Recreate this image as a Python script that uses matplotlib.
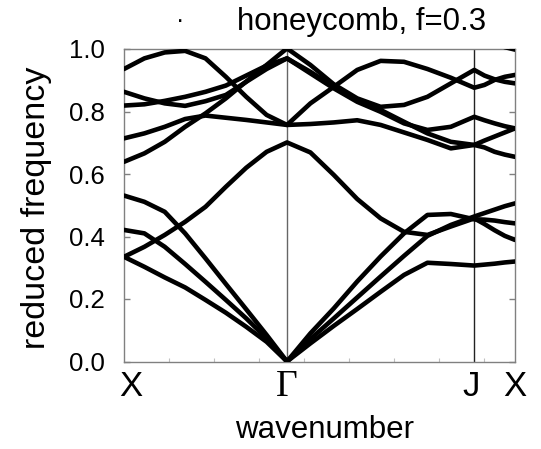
import numpy as np
import matplotlib
matplotlib.use("Agg")
import matplotlib.pyplot as plt
from matplotlib.transforms import ScaledTranslation
from matplotlib.ticker import MultipleLocator

# ---- k-path (symmetry points) ----
tick_labels = ["X", "Γ", "J", "X"]
tick_pos = [0.0, 1.0, 2.149, 2.399]

k_XG = np.linspace(tick_pos[0], tick_pos[1], 9)
k_GJ = np.linspace(tick_pos[1], tick_pos[2], 9)
k_JX = np.linspace(tick_pos[2], tick_pos[3], 5)

# ---- bands: values read along X->Gamma, Gamma->J, J->X ----
band1_XG = [0.335, 0.303, 0.269, 0.237, 0.197, 0.156, 0.111, 0.063, 0.0]
band1_GJ = [0.0, 0.058, 0.114, 0.168, 0.223, 0.277, 0.316, 0.312, 0.307]
band1_JX = [0.307, 0.310, 0.313, 0.317, 0.320]

band2_XG = [0.421, 0.410, 0.367, 0.312, 0.255, 0.197, 0.138, 0.074, 0.0]
band2_GJ = [0.0, 0.072, 0.138, 0.205, 0.272, 0.338, 0.402, 0.437, 0.464]
band2_JX = [0.464, 0.475, 0.486, 0.497, 0.506]

band3_XG = [0.531, 0.511, 0.479, 0.410, 0.330, 0.248, 0.167, 0.085, 0.0]
band3_GJ = [0.0, 0.090, 0.170, 0.256, 0.336, 0.410, 0.469, 0.472, 0.455]
band3_JX = [0.455, 0.454, 0.451, 0.446, 0.442]

band4_XG = [0.335, 0.367, 0.405, 0.447, 0.495, 0.559, 0.620, 0.671, 0.701]
band4_GJ = [0.701, 0.669, 0.597, 0.520, 0.458, 0.415, 0.405, 0.432, 0.458]
band4_JX = [0.458, 0.440, 0.420, 0.402, 0.389]

band5_XG = [0.639, 0.666, 0.703, 0.751, 0.794, 0.842, 0.896, 0.949, 1.002]
band5_GJ = [1.002, 0.949, 0.887, 0.842, 0.815, 0.821, 0.847, 0.890, 0.933]
band5_JX = [0.933, 0.915, 0.903, 0.895, 0.890]

band6_XG = [0.714, 0.730, 0.751, 0.776, 0.787, 0.780, 0.773, 0.765, 0.757]
band6_GJ = [0.757, 0.826, 0.879, 0.933, 0.962, 0.959, 0.936, 0.908, 0.876]
band6_JX = [0.876, 0.885, 0.901, 0.911, 0.917]

band7_XG = [0.819, 0.823, 0.834, 0.847, 0.863, 0.883, 0.915, 0.947, 0.970]
band7_GJ = [0.970, 0.927, 0.879, 0.837, 0.805, 0.767, 0.730, 0.703, 0.693]
band7_JX = [0.693, 0.685, 0.671, 0.662, 0.655]

band8_XG = [0.863, 0.842, 0.826, 0.818, 0.833, 0.853, 0.895, 0.936, 0.970]
band8_GJ = [0.970, 0.922, 0.874, 0.831, 0.799, 0.762, 0.741, 0.751, 0.783]
band8_JX = [0.783, 0.772, 0.762, 0.753, 0.746]

band9_XG = [0.936, 0.970, 0.989, 0.994, 0.970, 0.911, 0.847, 0.789, 0.757]
band9_GJ = [0.757, 0.760, 0.765, 0.772, 0.757, 0.733, 0.709, 0.682, 0.693]
band9_JX = [0.693, 0.707, 0.720, 0.733, 0.746]

band10_JX = [1.050, 1.035, 1.020, 1.006, 0.998]

bands = [
    (band1_XG, band1_GJ, band1_JX),
    (band2_XG, band2_GJ, band2_JX),
    (band3_XG, band3_GJ, band3_JX),
    (band4_XG, band4_GJ, band4_JX),
    (band5_XG, band5_GJ, band5_JX),
    (band6_XG, band6_GJ, band6_JX),
    (band7_XG, band7_GJ, band7_JX),
    (band8_XG, band8_GJ, band8_JX),
    (band9_XG, band9_GJ, band9_JX),
]

title_text = "honeycomb, f=0.3"
xlabel_text = "wavenumber"
ylabel_text = "reduced frequency"

plt.rcParams['font.family'] = ['Liberation Sans', 'DejaVu Sans']

W, H = 541, 449
fig = plt.figure(figsize=(W / 100, H / 100), dpi=100)
ax = fig.add_axes([124 / W, 1 - 361.5 / H, (515 - 124) / W, (361.5 - 49) / H])

k_all = np.concatenate([k_XG, k_GJ[1:], k_JX[1:]])
for xg, gj, jx in bands:
    vals = np.concatenate([xg, gj[1:], jx[1:]])
    ax.plot(k_all, vals, color='black', lw=3.3, solid_capstyle='round',
            solid_joinstyle='round', zorder=3)
ax.plot(k_JX, band10_JX, color='black', lw=3.3, solid_capstyle='round', zorder=3)

ax.axvline(tick_pos[1], color='#666666', lw=1.0, zorder=2)
ax.axvline(tick_pos[2], color='#222222', lw=1.0, zorder=2)

ax.set_xlim(tick_pos[0], tick_pos[-1])
ax.set_ylim(0, 1.0)

for s in ax.spines.values():
    s.set_color('#808080')
    s.set_linewidth(1.0)

ax.set_yticks([0.0, 0.2, 0.4, 0.6, 0.8, 1.0])
ax.set_yticklabels(["0.0", "0.2", "0.4", "0.6", "0.8", "1.0"])
ax.tick_params(axis='y', direction='in', length=4, width=1, color='#808080',
               labelsize=18.5, pad=14, right=True, labelcolor='black')

ax.set_xticks(tick_pos)
ax.set_xticklabels(tick_labels)
ax.tick_params(axis='x', which='major', length=0, labelsize=25, pad=6)
ax.xaxis.set_minor_locator(MultipleLocator(0.276))
ax.tick_params(axis='x', which='minor', direction='in', length=3, width=0.8,
               color='#c0c0c0')

labs = ax.get_xticklabels()
labs[1].set_fontfamily(['Liberation Serif', 'DejaVu Serif'])
labs[1].set_fontsize(27)
labs[0].set_transform(labs[0].get_transform() + ScaledTranslation(7 / 100, 0, fig.dpi_scale_trans))
labs[2].set_transform(labs[2].get_transform() + ScaledTranslation(-3 / 100, 0, fig.dpi_scale_trans))

fig.text(325 / W, 1 - 430 / H, xlabel_text, fontsize=22.5, ha='center', va='center')
fig.text(37 / W, 1 - 208 / H, ylabel_text, fontsize=24.5, ha='center', va='center',
         rotation=90)
fig.text(362 / W, 1 - 22 / H, title_text, fontsize=22.5, ha='center', va='center')
fig.text(180 / W, 1 - 21 / H, "·", fontsize=18, ha='center', va='center')

fig.savefig("out.png", dpi=100)
